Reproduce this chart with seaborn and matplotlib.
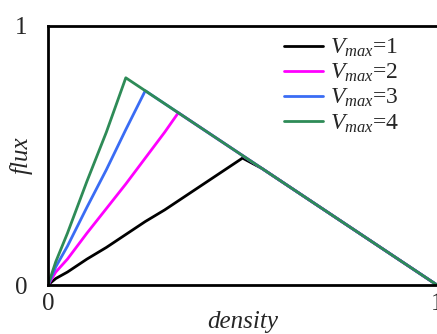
import pandas as pd
import seaborn as sns
import matplotlib.pyplot as plt

# free-flow branch of each curve
v1_density = [0.0, 0.02, 0.05, 0.10, 0.15, 0.20, 0.25, 0.30, 0.35, 0.40, 0.45, 0.50]
v1_flux = [0.0, 0.025, 0.05, 0.10, 0.145, 0.195, 0.245, 0.29, 0.34, 0.39, 0.44, 0.49]
v2_density = [0.0, 0.02, 0.05, 0.10, 0.15, 0.20, 0.25, 0.30, 0.335]
v2_flux = [0.0, 0.05, 0.10, 0.20, 0.295, 0.39, 0.49, 0.59, 0.665]
v3_density = [0.0, 0.02, 0.05, 0.10, 0.15, 0.20, 0.25]
v3_flux = [0.0, 0.07, 0.15, 0.30, 0.445, 0.60, 0.75]
v4_density = [0.0, 0.02, 0.05, 0.10, 0.15, 0.20]
v4_flux = [0.0, 0.09, 0.20, 0.40, 0.59, 0.80]

# shared congested branch
jam_density = [0.20, 0.25, 0.30, 0.335, 0.40, 0.45, 0.50, 0.55, 0.60, 0.65,
               0.70, 0.75, 0.80, 0.85, 0.90, 0.95, 1.00]
jam_flux = [0.80, 0.75, 0.70, 0.665, 0.60, 0.55, 0.50, 0.45, 0.40, 0.35,
            0.30, 0.25, 0.20, 0.15, 0.10, 0.05, 0.0]

labels = ["$V_{max}$=1", "$V_{max}$=2", "$V_{max}$=3", "$V_{max}$=4"]
colors = ["#000000", "#ff00ff", "#3a6cf4", "#2e8b57"]

frames = []
for lab, d, f in zip(labels,
                     [v1_density, v2_density, v3_density, v4_density],
                     [v1_flux, v2_flux, v3_flux, v4_flux]):
    jd = [x for x in jam_density if x > d[-1]]
    jf = jam_flux[len(jam_density) - len(jd):]
    frames.append(pd.DataFrame({"density": d + jd, "flux": f + jf, "curve": lab}))
df = pd.concat(frames, ignore_index=True)

sns.set_style("white")
plt.rcParams["font.family"] = ["Liberation Serif", "DejaVu Serif"]
plt.rcParams["mathtext.fontset"] = "custom"
plt.rcParams["mathtext.it"] = "Liberation Serif:italic"
plt.rcParams["mathtext.rm"] = "Liberation Serif"

fig = plt.figure(figsize=(4.37, 3.34), dpi=100)
ax = fig.add_axes([48 / 437, 1 - 285 / 334, 1 - 48 / 437, (285 - 26) / 334])

sns.lineplot(data=df, x="density", y="flux", hue="curve", palette=colors,
             sort=False, estimator=None, linewidth=2, ax=ax)

ax.set_xlim(0, 1)
ax.set_ylim(0, 1)
ax.set_xticks([0, 1])
ax.set_yticks([0, 1])
ax.tick_params(length=0, labelsize=18)
ax.tick_params(axis="x", pad=6)
ax.tick_params(axis="y", pad=15)
ax.set_xlabel("density", fontsize=18, style="italic", labelpad=-3)
ax.set_ylabel("flux", fontsize=18, style="italic")
ax.yaxis.set_label_coords(-0.039, 0.5)
for s in ["left", "top", "bottom"]:
    ax.spines[s].set_linewidth(2)
    ax.spines[s].set_color("black")
ax.spines["right"].set_visible(False)

ax.legend(loc="upper left", frameon=False, fontsize=17, handlelength=1.65,
          labelspacing=0.12, borderaxespad=0, borderpad=0, handletextpad=0.3,
          bbox_to_anchor=(0.607, 0.958))

fig.savefig("out.png", dpi=100)
